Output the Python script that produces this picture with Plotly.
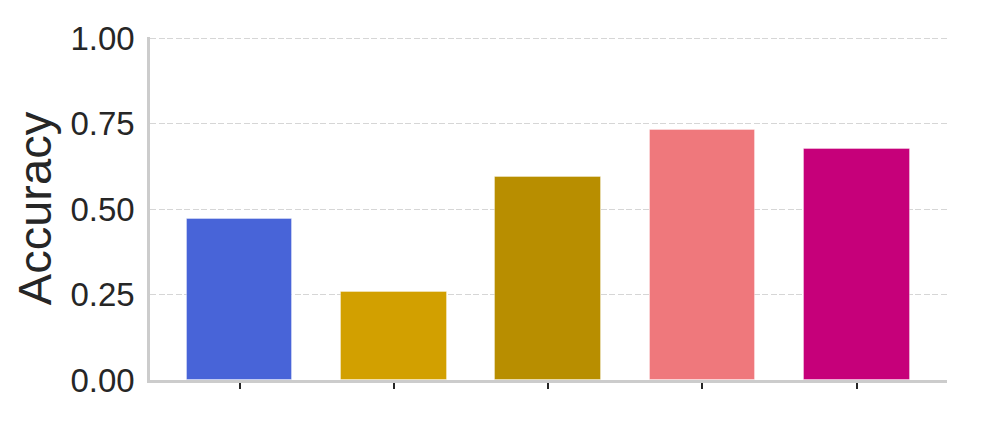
import plotly.graph_objects as go

# categories (labels are not shown on the chart, only tick marks)
models = ["model_1", "model_2", "model_3", "model_4", "model_5"]
accuracy = [0.472, 0.258, 0.594, 0.731, 0.675]
bar_colors = ["#4864D8", "#D2A000", "#B88E00", "#EF787C", "#C6007A"]

y_ticks = [0, 0.25, 0.5, 0.75, 1.0]
y_tick_text = ["0.00", "0.25", "0.50", "0.75", "1.00"]

fig = go.Figure()
fig.add_trace(go.Bar(
    x=models,
    y=accuracy,
    width=0.684,
    marker=dict(color=bar_colors, line=dict(color="rgba(255,255,255,0.35)", width=1)),
    showlegend=False,
))

# the page body adds 8px, so margins are shifted by that amount
fig.update_layout(
    width=997,
    height=427,
    margin=dict(l=142, r=58, t=25, b=55),
    paper_bgcolor="white",
    plot_bgcolor="white",
    font=dict(family="Arial, Liberation Sans, sans-serif", color="#262626"),
    bargap=0,
)

fig.update_xaxes(
    range=[-0.58, 4.585],
    showticklabels=False,
    ticks="outside",
    ticklen=6,
    tickwidth=2,
    tickcolor="#262626",
    showgrid=False,
    showline=True,
    linecolor="#cccccc",
    linewidth=2.5,
    zeroline=False,
)

fig.update_yaxes(
    range=[0, 1.003],
    tickvals=y_ticks,
    ticktext=y_tick_text,
    tickfont=dict(size=33, color="#262626"),
    ticks="",
    ticklabelstandoff=6,
    showgrid=True,
    gridcolor="#d6d6d6",
    gridwidth=1,
    griddash="6px,2.5px",
    showline=True,
    linecolor="#cccccc",
    linewidth=2.5,
    zeroline=False,
    title=dict(text="Accuracy", font=dict(size=47, color="#262626"), standoff=8),
)

fig.write_html("out.html")
